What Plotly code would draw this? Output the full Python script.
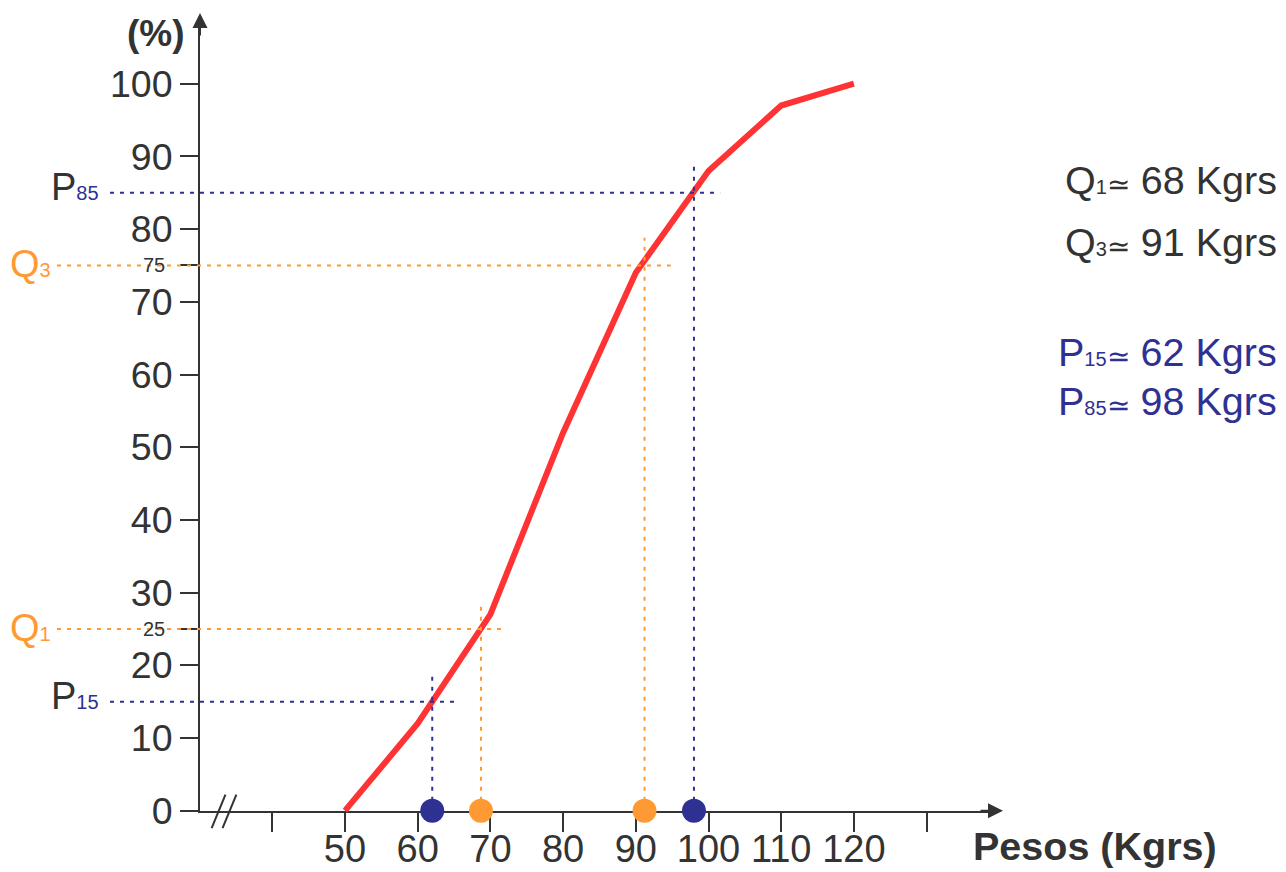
import plotly.graph_objects as go

# ---------------- data ----------------
pesos = [50, 60, 70, 80, 90, 100, 110, 120]              # Kgrs (class limits)
frec_acum_pct = [0, 12, 27, 52, 74, 88, 97, 100]         # cumulative %

cuartil_idx = ["1", "3"]
cuartil_pct = [25, 75]
cuartil_peso = [68.7, 91.2]
cuartil_txt = ["68", "91"]

percentil_idx = ["15", "85"]
percentil_pct = [15, 85]
percentil_peso = [62, 98]
percentil_txt = ["62", "98"]

x_tickvals = [40, 50, 60, 70, 80, 90, 100, 110, 120, 130]
x_ticktext = ["", "50", "60", "70", "80", "90", "100", "110", "120", ""]
y_tickvals = [0, 10, 20, 30, 40, 50, 60, 70, 80, 90, 100]
y_minor_vals = [25, 75]

# ---------------- layout calibration ----------------
W, H = 1286, 872
PX_PER_X, X_REF_VAL, X_REF_PX = 7.27, 50, 345
PX_PER_Y, Y_ZERO_PX = 7.27, 810.7
X0 = X_REF_VAL - X_REF_PX / PX_PER_X
X1 = X0 + W / PX_PER_X
Y0 = -(H - Y_ZERO_PX) / PX_PER_Y
Y1 = Y0 + H / PX_PER_Y


def xv(px):
    return X0 + px / PX_PER_X


def yv(py):
    return Y0 + (H - py) / PX_PER_Y


FONT = "Liberation Sans, Arial, Helvetica, sans-serif"
GRAY = "#333333"
RED = "#ff3333"
NAVY = "#2e3192"
ORANGE = "#ff9933"

AX_LEFT_PX, AX_RIGHT_PX, AX_TOP_PX = 200, 990, 28

fig = go.Figure()
fig.add_trace(go.Scatter(x=[None], y=[None], showlegend=False, hoverinfo="skip"))

# ogive
fig.add_trace(go.Scatter(
    x=pesos, y=frec_acum_pct, mode="lines",
    line=dict(color=RED, width=6), xaxis="x2", yaxis="y2",
    showlegend=False, hoverinfo="skip"))

H_OVER, V_OVER = 3.6, 3.8
Q_START = xv(57)
P_START = xv(110)
DASH = "4px,6px"

for pct, peso in zip(cuartil_pct, cuartil_peso):
    fig.add_trace(go.Scatter(x=[Q_START, peso + H_OVER], y=[pct, pct], mode="lines",
                             line=dict(color=ORANGE, width=2, dash=DASH),
                             xaxis="x2", yaxis="y2", showlegend=False, hoverinfo="skip"))
    fig.add_trace(go.Scatter(x=[peso, peso], y=[0, pct + V_OVER], mode="lines",
                             line=dict(color=ORANGE, width=2, dash=DASH),
                             xaxis="x2", yaxis="y2", showlegend=False, hoverinfo="skip"))
for pct, peso in zip(percentil_pct, percentil_peso):
    fig.add_trace(go.Scatter(x=[P_START, peso + H_OVER], y=[pct, pct], mode="lines",
                             line=dict(color=NAVY, width=2, dash=DASH),
                             xaxis="x2", yaxis="y2", showlegend=False, hoverinfo="skip"))
    fig.add_trace(go.Scatter(x=[peso, peso], y=[0, pct + V_OVER], mode="lines",
                             line=dict(color=NAVY, width=2, dash=DASH),
                             xaxis="x2", yaxis="y2", showlegend=False, hoverinfo="skip"))

# dots on the x axis
fig.add_trace(go.Scatter(x=cuartil_peso, y=[0] * len(cuartil_peso), mode="markers",
                         marker=dict(color=ORANGE, size=24),
                         xaxis="x2", yaxis="y2", showlegend=False, hoverinfo="skip"))
fig.add_trace(go.Scatter(x=percentil_peso, y=[0] * len(percentil_peso), mode="markers",
                         marker=dict(color=NAVY, size=24),
                         xaxis="x2", yaxis="y2", showlegend=False, hoverinfo="skip"))

annotations = []
for idx, pct in zip(cuartil_idx, cuartil_pct):
    annotations.append(dict(
        x=xv(53), y=pct, xref="x2", yref="y2", xanchor="right", yanchor="middle",
        yshift=1,
        text=f"Q<span style='font-size:20px'>{idx}</span>", showarrow=False,
        font=dict(family=FONT, size=38, color=ORANGE)))
    annotations.append(dict(
        x=xv(167), y=pct, xref="x2", yref="y2", xanchor="right", yanchor="middle",
        text=str(pct), showarrow=False, font=dict(family=FONT, size=20, color=GRAY)))
for idx, pct in zip(percentil_idx, percentil_pct):
    annotations.append(dict(
        x=xv(101), y=pct, xref="x2", yref="y2", xanchor="right", yanchor="middle",
        yshift=6,
        text=f"P<span style='font-size:20px;fill:{NAVY}'>{idx}</span>", showarrow=False,
        font=dict(family=FONT, size=38, color=GRAY)))

# axis titles
annotations.append(dict(x=xv(156), y=yv(33), xref="x2", yref="y2", text="<b>(%)</b>",
                        showarrow=False, font=dict(family=FONT, size=37, color=GRAY)))
annotations.append(dict(x=xv(1095), y=yv(846), xref="x2", yref="y2", text="<b>Pesos (Kgrs)</b>",
                        showarrow=False, font=dict(family=FONT, size=39.5, color=GRAY)))

# right-hand summary
right_rows = []
for idx, t in zip(cuartil_idx, cuartil_txt):
    right_rows.append((f"Q<span style='font-size:20px'>{idx}</span>"
                       f"<span style='font-size:28px'>≃</span> {t} Kgrs", GRAY))
for idx, t in zip(percentil_idx, percentil_txt):
    right_rows.append((f"P<span style='font-size:20px'>{idx}</span>"
                       f"<span style='font-size:28px'>≃</span> {t} Kgrs", NAVY))
row_py = [180, 242, 352, 401]
for (txt, col), py in zip(right_rows, row_py):
    annotations.append(dict(x=xv(1279), y=yv(py), xref="x2", yref="y2",
                            xanchor="right", yanchor="middle", text=txt, showarrow=False,
                            font=dict(family=FONT, size=39.5, color=col)))

# axis arrows
annotations.append(dict(x=xv(AX_LEFT_PX), y=yv(13), xref="x2", yref="y2", text="",
                        showarrow=True, ax=0, ay=24, arrowhead=2, arrowsize=1.5,
                        arrowwidth=2, arrowcolor=GRAY, standoff=0))
annotations.append(dict(x=xv(1003), y=0, xref="x2", yref="y2", text="",
                        showarrow=True, ax=-24, ay=0, arrowhead=2, arrowsize=1.5,
                        arrowwidth=2, arrowcolor=GRAY, standoff=0))

# axis break mark "//"
BREAK_X = xv(224)
shapes = []
for off in (-0.75, 0.75):
    shapes.append(dict(type="line", xref="x2", yref="y2",
                       x0=BREAK_X + off - 0.95, y0=-2.4, x1=BREAK_X + off + 0.95, y1=2.2,
                       line=dict(color=GRAY, width=2)))

fig.update_layout(
    width=W, height=H, autosize=False,
    margin=dict(l=0, r=0, t=0, b=0, pad=0),
    paper_bgcolor="white", plot_bgcolor="rgba(0,0,0,0)",
    showlegend=False,
    xaxis=dict(domain=[AX_LEFT_PX / W, AX_RIGHT_PX / W], range=[xv(AX_LEFT_PX), xv(AX_RIGHT_PX)],
               anchor="y", automargin=False, showline=True, linecolor=GRAY, linewidth=2,
               ticks="outside", ticklen=19, tickwidth=2, tickcolor=GRAY,
               tickmode="array", tickvals=x_tickvals, ticktext=x_ticktext,
               ticklabelstandoff=-15,
               tickfont=dict(family=FONT, size=38, color=GRAY),
               showgrid=False, zeroline=False, fixedrange=True),
    yaxis=dict(domain=[(H - Y_ZERO_PX) / H, (H - AX_TOP_PX) / H], range=[0, yv(AX_TOP_PX)],
               anchor="x", automargin=False, showline=True, linecolor=GRAY, linewidth=2,
               ticks="outside", ticklen=18, tickwidth=2, tickcolor=GRAY,
               tickmode="array", tickvals=y_tickvals,
               tickfont=dict(family=FONT, size=37.5, color=GRAY),
               minor=dict(tickmode="array", tickvals=y_minor_vals, ticks="outside",
                          ticklen=18, tickwidth=2, tickcolor=GRAY, showgrid=False),
               showgrid=False, zeroline=False, fixedrange=True),
    xaxis2=dict(domain=[0, 1], range=[X0, X1], anchor="y2", visible=False,
                automargin=False, fixedrange=True),
    yaxis2=dict(domain=[0, 1], range=[Y0, Y1], anchor="x2", visible=False,
                automargin=False, fixedrange=True),
    annotations=annotations,
    shapes=shapes,
)

fig.write_html("out.html", config={"displayModeBar": False},
               post_script="document.body.style.margin='0';")
